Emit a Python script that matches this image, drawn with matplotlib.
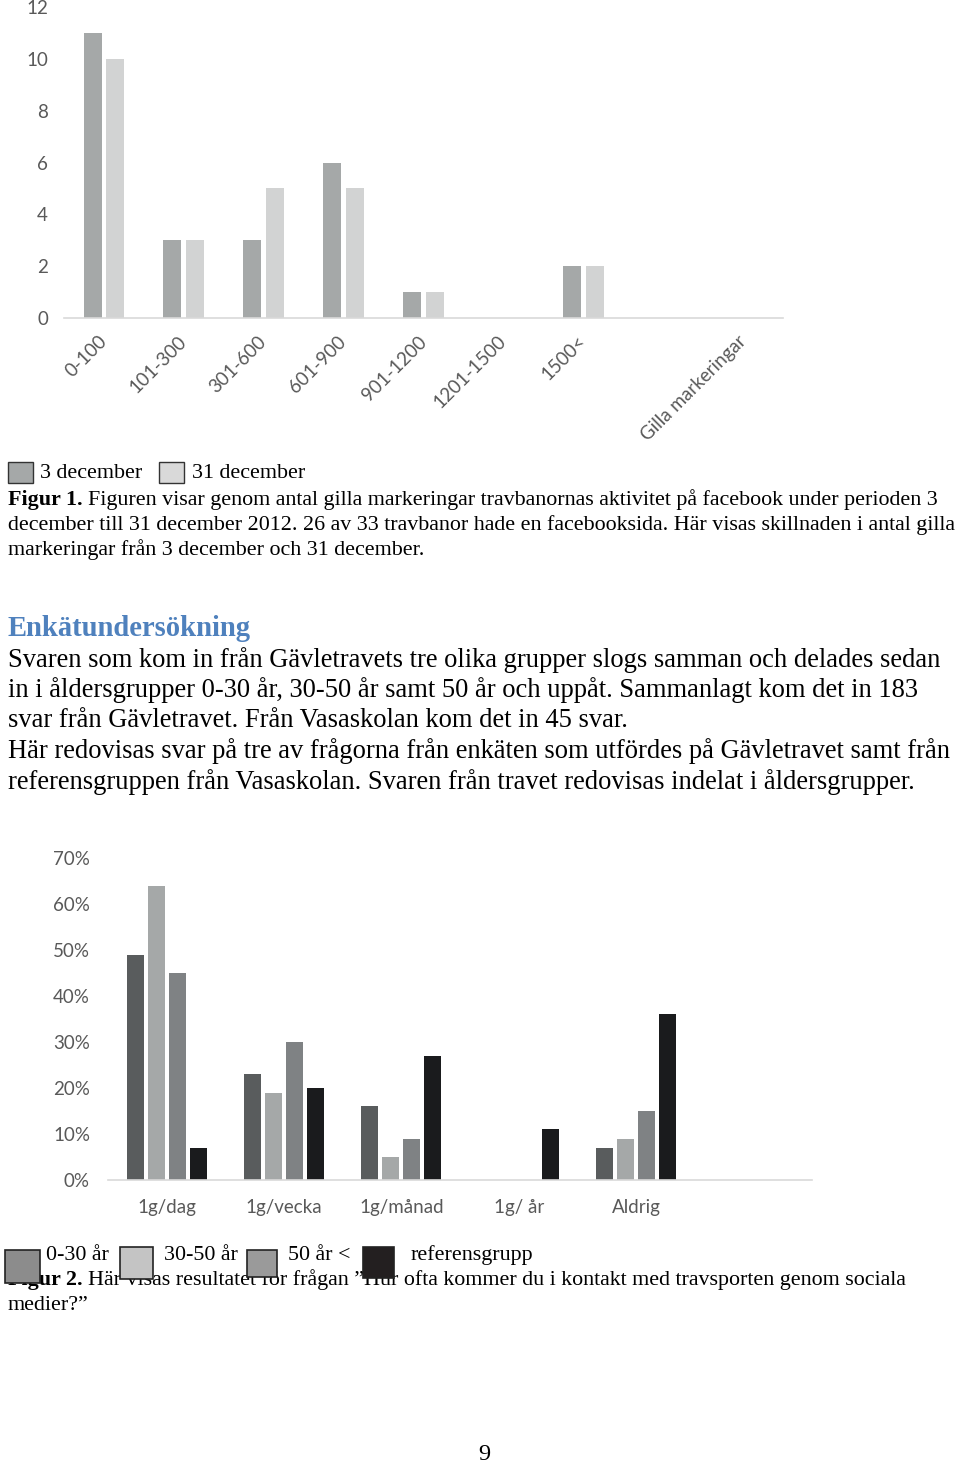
import numpy as np
import matplotlib.pyplot as plt
from matplotlib.patches import Rectangle
from matplotlib.ticker import PercentFormatter

# figur 1 - gilla markeringar
kategorier1 = ["0-100", "101-300", "301-600", "601-900", "901-1200", "1201-1500", "1500<", "", "Gilla markeringar"]
dec3 = [11, 3, 3, 6, 1, 0, 2, 0, 0]
dec31 = [10, 3, 5, 5, 1, 0, 2, 0, 0]

# figur 2 - kontakt via sociala medier
kategorier2 = ["1g/dag", "1g/vecka", "1g/månad", "1g/ år", "Aldrig", ""]
grupp_0_30 = [0.49, 0.23, 0.16, 0.0, 0.07, 0]
grupp_30_50 = [0.64, 0.19, 0.05, 0.0, 0.09, 0]
grupp_50 = [0.45, 0.30, 0.09, 0.0, 0.15, 0]
referens = [0.07, 0.20, 0.27, 0.11, 0.36, 0]

W, H = 960, 1466
fig = plt.figure(figsize=(W / 100, H / 100), dpi=100)

def fx(x):
    return x / W

def fy(y):
    return 1 - y / H

chartfont = "Lato"
serif = "Liberation Serif"
grey_txt = "#595959"

def style_axes(ax, ypad):
    for s in ["top", "right", "left"]:
        ax.spines[s].set_visible(False)
    ax.spines["bottom"].set_color("#D9D9D9")
    ax.spines["bottom"].set_linewidth(1.2)
    ax.tick_params(length=0, colors=grey_txt, labelsize=13.5)
    ax.tick_params(axis="y", pad=ypad)
    for lab in ax.get_yticklabels() + ax.get_xticklabels():
        lab.set_fontfamily(chartfont)

# ---- chart 1
ax1 = fig.add_axes([fx(64), fy(318), fx(783) - fx(64), fy(7) - fy(318)])
x1 = np.arange(len(kategorier1))
ax1.bar(x1 - 0.143, dec3, width=0.225, color="#A5A8A8")
ax1.bar(x1 + 0.143, dec31, width=0.225, color="#D2D3D3")
ax1.set_xlim(-0.5, len(kategorier1) - 0.5)
ax1.set_ylim(0, 12)
ax1.set_yticks(range(0, 13, 2))
ax1.set_xticks(x1)
ax1.set_xticklabels(kategorier1, rotation=45, ha="right", va="center", rotation_mode="anchor")
ax1.tick_params(axis="x", pad=15)
style_axes(ax1, 11.5)

# legend 1
fig.patches.append(Rectangle((fx(8), fy(483)), fx(25), fy(462) - fy(483), transform=fig.transFigure,
                             facecolor="#A5A8A8", edgecolor="#333333", lw=1))
fig.patches.append(Rectangle((fx(159), fy(483)), fx(25), fy(462) - fy(483), transform=fig.transFigure,
                             facecolor="#D9D9D9", edgecolor="#333333", lw=1))
cap = 15.85
fig.text(fx(40), fy(474), "3 december", fontsize=cap, family=serif, va="center")
fig.text(fx(192), fy(474), "31 december", fontsize=cap, family=serif, va="center")

renderer = fig.canvas.get_renderer()

def bold_lead(x, y, lead, rest, size):
    t = fig.text(fx(x), fy(y), lead, fontsize=size, family=serif, weight="bold", va="center")
    bb = t.get_window_extent(renderer)
    fig.text(bb.x1 / W + fx(5), fy(y), rest, fontsize=size, family=serif, va="center")

bold_lead(8, 500, "Figur 1.",
          "Figuren visar genom antal gilla markeringar travbanornas aktivitet på facebook under perioden 3", cap)
fig.text(fx(8), fy(525), "december till 31 december 2012. 26 av 33 travbanor hade en facebooksida. Här visas skillnaden i antal gilla",
         fontsize=cap, family=serif, va="center")
fig.text(fx(8), fy(550), "markeringar från 3 december och 31 december.", fontsize=cap, family=serif, va="center")

# body text
fig.text(fx(8), fy(629), "Enkätundersökning", fontsize=20.6, family=serif, weight="bold", color="#4F81BD", va="center")
body = [
    "Svaren som kom in från Gävletravets tre olika grupper slogs samman och delades sedan",
    "in i åldersgrupper 0-30 år, 30-50 år samt 50 år och uppåt. Sammanlagt kom det in 183",
    "svar från Gävletravet. Från Vasaskolan kom det in 45 svar.",
    "Här redovisas svar på tre av frågorna från enkäten som utfördes på Gävletravet samt från",
    "referensgruppen från Vasaskolan. Svaren från travet redovisas indelat i åldersgrupper.",
]
for i, line in enumerate(body):
    fig.text(fx(8), fy(660 + i * 30.4), line, fontsize=19.1, family=serif, va="center")

# ---- chart 2
ax2 = fig.add_axes([fx(108), fy(1180), fx(812) - fx(108), fy(858) - fy(1180)])
x2 = np.arange(len(kategorier2))
step = 0.179
serier = [grupp_0_30, grupp_30_50, grupp_50, referens]
farger = ["#595C5D", "#A5A8A8", "#7F8284", "#1A1B1D"]
for k, (vals, c) in enumerate(zip(serier, farger)):
    ax2.bar(x2 + (k - 1.5) * step, vals, width=0.145, color=c)
ax2.set_xlim(-0.5, len(kategorier2) - 0.5)
ax2.set_ylim(0, 0.7)
ax2.set_yticks(np.arange(0, 0.71, 0.1))
ax2.yaxis.set_major_formatter(PercentFormatter(1.0, decimals=0))
ax2.set_xticks(x2)
ax2.set_xticklabels(kategorier2)
ax2.tick_params(axis="x", pad=14)
style_axes(ax2, 13)

# legend 2
leg2 = [(5, 1250, 35, 33, "#8C8C8C"), (120, 1247, 33, 32, "#C4C4C4"),
        (247, 1250, 30, 27, "#9A9A9A"), (363, 1247, 31, 31, "#231F20")]
bold_lead(8, 1280, "Figur 2.",
          "Här visas resultatet för frågan ”Hur ofta kommer du i kontakt med travsporten genom sociala", cap)
fig.text(fx(8), fy(1305), "medier?”", fontsize=cap, family=serif, va="center")
for (x, y, w, h, c) in leg2:
    fig.patches.append(Rectangle((fx(x), fy(y + h)), fx(w), fy(y) - fy(y + h), transform=fig.transFigure,
                                 facecolor=c, edgecolor="#222222", lw=1.2, zorder=5))
for x, lab in [(46, "0-30 år"), (164, "30-50 år"), (288, "50 år <"), (411, "referensgrupp")]:
    fig.text(fx(x), fy(1255), lab, fontsize=cap, family=serif, va="center")

fig.text(fx(484), fy(1455), "9", fontsize=17.5, family=serif, ha="center", va="center")

fig.savefig("out.png", dpi=100)
